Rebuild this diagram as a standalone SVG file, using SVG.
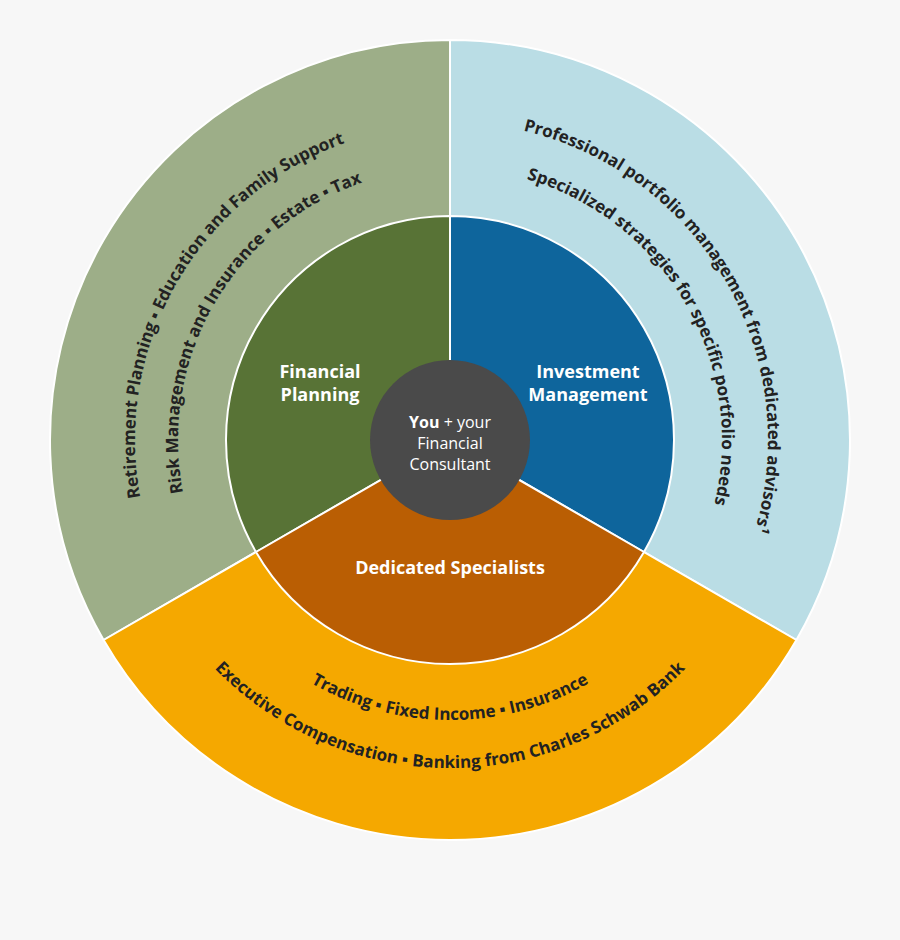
<svg xmlns="http://www.w3.org/2000/svg" xmlns:xlink="http://www.w3.org/1999/xlink" width="900" height="940" viewBox="0 0 900 940">
<style>
.sec{stroke:#fff;stroke-width:2}
.arc{font-family:"Open Sans","Liberation Sans",sans-serif;font-weight:700;font-size:17px;fill:#222}
.lbl{font-family:"Open Sans","Liberation Sans",sans-serif;font-weight:700;font-size:18px;fill:#fff;text-anchor:middle}
.ctr{font-family:"Open Sans","Liberation Sans",sans-serif;font-size:16px;fill:#fff;text-anchor:middle}
</style>
<defs>
<path id="l1" d="M177.2,597.5 A315,315 0 0 1 450,125"/>
<path id="l2" d="M214.4,576 A272,272 0 0 1 450,168"/>
<path id="r1" d="M450,122 A318,318 0 0 1 725.4,599"/>
<path id="r2" d="M450,168 A272,272 0 0 1 685.6,576"/>
<path id="b1" d="M207.5,580 A280,280 0 0 0 692.5,580"/>
<path id="b2" d="M165.9,604 A328,328 0 0 0 734.1,604"/>
</defs>
<rect width="900" height="940" fill="#f7f7f7"/>
<g id="outer-green"><path class="sec" fill="#9dae88" d="M450,440 L103.6,640 A400,400 0 0 1 450,40 Z"/></g>
<g id="outer-blue"><path class="sec" fill="#badde5" d="M450,440 L450,40 A400,400 0 0 1 796.4,640 Z"/></g>
<g id="outer-orange"><path class="sec" fill="#f5a800" d="M450,440 L796.4,640 A400,400 0 0 1 103.6,640 Z"/></g>
<g id="financial-planning"><path class="sec" fill="#587336" d="M450,440 L256,552 A224,224 0 0 1 450,216 Z"/>
<text class="lbl" x="320" y="378">Financial</text><text class="lbl" x="320" y="401">Planning</text></g>
<g id="investment-management"><path class="sec" fill="#0e659c" d="M450,440 L450,216 A224,224 0 0 1 644,552 Z"/>
<text class="lbl" x="588" y="378">Investment</text><text class="lbl" x="588" y="401">Management</text></g>
<g id="dedicated-specialists"><path class="sec" fill="#ba5e03" d="M450,440 L644,552 A224,224 0 0 1 256,552 Z"/>
<text class="lbl" x="450" y="574">Dedicated Specialists</text></g>
<g id="center"><circle cx="450" cy="440" r="80" fill="#4a4a4a"/>
<text class="ctr" x="450" y="428"><tspan font-weight="700">You</tspan> + your</text>
<text class="ctr" x="450" y="449">Financial</text>
<text class="ctr" x="450" y="470">Consultant</text></g>
<g id="arc-texts" class="arc" text-anchor="middle">
<text><textPath xlink:href="#l1" href="#l1" startOffset="50%">Retirement Planning ▪ Education and Family Support</textPath></text>
<text><textPath xlink:href="#l2" href="#l2" startOffset="50%">Risk Management and Insurance ▪ Estate ▪ Tax</textPath></text>
<text><textPath xlink:href="#r1" href="#r1" startOffset="50%">Professional portfolio management from dedicated advisors¹</textPath></text>
<text><textPath xlink:href="#r2" href="#r2" startOffset="50%">Specialized strategies for specific portfolio needs</textPath></text>
<text><textPath xlink:href="#b1" href="#b1" startOffset="50%">Trading ▪ Fixed Income ▪ Insurance</textPath></text>
<text><textPath xlink:href="#b2" href="#b2" startOffset="50%">Executive Compensation ▪ Banking from Charles Schwab Bank</textPath></text>
</g>
</svg>
